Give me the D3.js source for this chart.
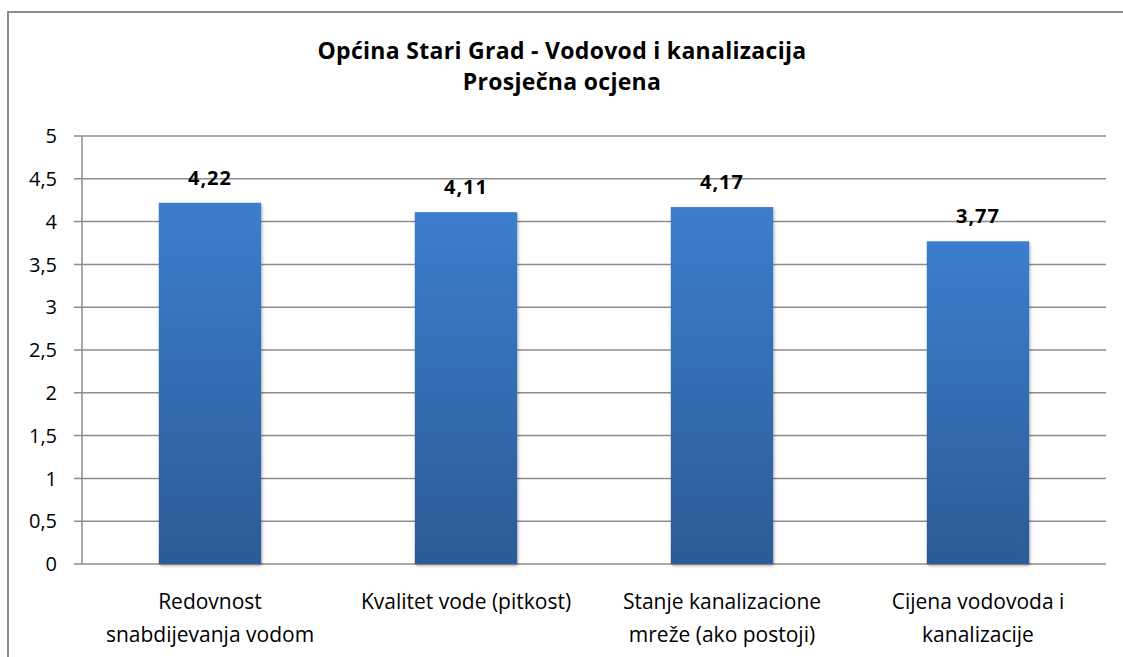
<!DOCTYPE html>
<html>
<head>
<meta charset="utf-8">
<script src="https://cdn.jsdelivr.net/npm/d3@7"></script>
<style>
  body { margin: 0; background: #fff; }
  text { font-family: "Open Sans", Lato, sans-serif; fill: #000; }
</style>
</head>
<body>
<div id="chart"></div>
<script>
var categories = [
    ["Redovnost", "snabdijevanja vodom"],
    ["Kvalitet vode (pitkost)"],
    ["Stanje kanalizacione", "mreže (ako postoji)"],
    ["Cijena vodovoda i", "kanalizacije"]
];
var values = [4.22, 4.11, 4.17, 3.77];
var yTicks = [0, 0.5, 1, 1.5, 2, 2.5, 3, 3.5, 4, 4.5, 5];
var titleLines = ["Općina Stari Grad - Vodovod i kanalizacija", "Prosječna ocjena"];

function drawChart() {
    var width = 1123,
        height = 657,
        plotLeft = 82,
        plotRight = 1106,
        plotTop = 136,
        plotBottom = 564;

    var fmt = function (v) { return String(v).replace(".", ","); };

    var svg = d3
        .select("#chart")
        .append("svg")
        .attr("width", width)
        .attr("height", height);

    var defs = svg.append("defs");
    var grad = defs.append("linearGradient")
        .attr("id", "barGrad")
        .attr("x1", 0).attr("y1", 0).attr("x2", 0).attr("y2", 1);
    grad.append("stop").attr("offset", "0%").attr("stop-color", "#3b7ecd");
    grad.append("stop").attr("offset", "100%").attr("stop-color", "#2c5b95");

    var shadow = defs.append("filter").attr("id", "shadow")
        .attr("x", "-10%").attr("y", "-10%").attr("width", "130%").attr("height", "130%");
    shadow.append("feDropShadow")
        .attr("dx", 1).attr("dy", 2).attr("stdDeviation", 1.5)
        .attr("flood-color", "#000").attr("flood-opacity", 0.3);

    // outer frame
    svg.append("path")
        .attr("d", "M8," + (height + 5) + " V12 H" + (width + 5))
        .attr("fill", "none")
        .attr("stroke", "#8c8c8c")
        .attr("stroke-width", 2);

    // title
    svg.append("text")
        .attr("text-anchor", "middle")
        .style("font-size", "23px")
        .style("font-weight", "bold")
        .style("letter-spacing", "0.3px")
        .selectAll("tspan")
        .data(titleLines)
        .enter()
        .append("tspan")
        .attr("x", 562)
        .attr("y", function (d, i) { return 59 + i * 31; })
        .text(function (d) { return d; });

    var x = d3.scaleBand()
        .domain(d3.range(categories.length))
        .range([plotLeft, plotRight])
        .paddingInner(0.6)
        .paddingOuter(0.3);

    var y = d3.scaleLinear()
        .domain([0, 5])
        .range([plotBottom, plotTop]);

    // gridlines
    svg.append("g")
        .selectAll("line")
        .data(yTicks)
        .enter()
        .append("line")
        .attr("x1", plotLeft - 8)
        .attr("x2", plotRight)
        .attr("y1", function (d) { return y(d); })
        .attr("y2", function (d) { return y(d); })
        .attr("stroke", "#8c8c8c")
        .attr("stroke-width", 1.5);

    // y axis line
    svg.append("line")
        .attr("x1", plotLeft).attr("x2", plotLeft)
        .attr("y1", plotTop).attr("y2", plotBottom)
        .attr("stroke", "#8c8c8c")
        .attr("stroke-width", 1.5);

    // y tick labels
    svg.append("g")
        .selectAll("text")
        .data(yTicks)
        .enter()
        .append("text")
        .attr("x", 57)
        .attr("y", function (d) { return y(d); })
        .attr("dy", "0.36em")
        .attr("text-anchor", "end")
        .style("font-size", "20px")
        .text(fmt);

    // bars
    svg.append("g")
        .selectAll("rect")
        .data(values)
        .enter()
        .append("rect")
        .attr("x", function (d, i) { return x(i); })
        .attr("y", function (d) { return y(d); })
        .attr("width", x.bandwidth())
        .attr("height", function (d) { return plotBottom - y(d); })
        .attr("fill", "url(#barGrad)")
        .attr("filter", "url(#shadow)");

    // value labels
    svg.append("g")
        .selectAll("text")
        .data(values)
        .enter()
        .append("text")
        .attr("x", function (d, i) { return x(i) + x.bandwidth() / 2; })
        .attr("y", function (d) { return y(d) - 18; })
        .attr("text-anchor", "middle")
        .style("font-size", "20px")
        .style("font-weight", "bold")
        .style("letter-spacing", "1px")
        .text(fmt);

    // category labels
    var cat = svg.append("g")
        .selectAll("text")
        .data(categories)
        .enter()
        .append("text")
        .attr("text-anchor", "middle")
        .style("font-size", "21px");

    cat.selectAll("tspan")
        .data(function (d, i) {
            return d.map(function (t) { return { t: t, i: i }; });
        })
        .enter()
        .append("tspan")
        .attr("x", function (d) { return x(d.i) + x.bandwidth() / 2; })
        .attr("y", function (d, j) { return 609 + j * 33; })
        .text(function (d) { return d.t; });
}

drawChart();
</script>
</body>
</html>
